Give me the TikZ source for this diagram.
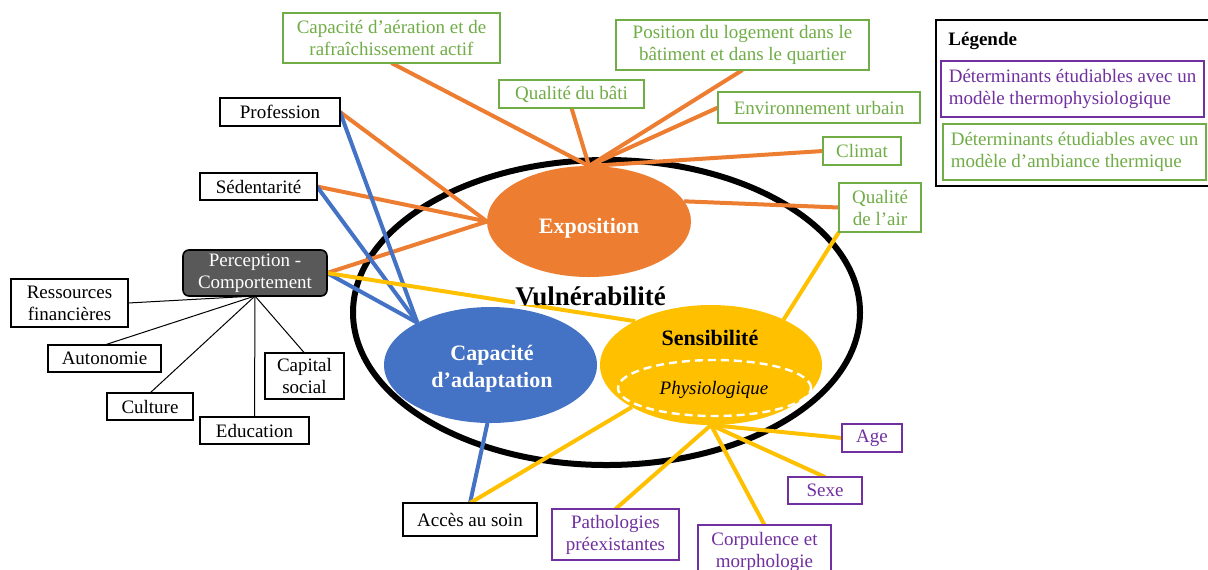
\documentclass[tikz,border=0pt]{standalone}
\usepackage{fontspec}
\setmainfont{Liberation Serif}
\usetikzlibrary{shapes.geometric}
\definecolor{grn}{HTML}{70AD47}
\definecolor{pur}{HTML}{7030A0}
\definecolor{org}{HTML}{ED7D31}
\definecolor{blu}{HTML}{4472C4}
\definecolor{yel}{HTML}{FFC000}
\definecolor{dgr}{HTML}{595959}
\pgfdeclarelayer{base}
\pgfdeclarelayer{lines}
\pgfsetlayers{base,lines,main}
\begin{document}
\begin{tikzpicture}[x=0.5pt,y=-0.5pt,
  sz/.style 2 args={minimum width=#1*0.5pt, minimum height=#2*0.5pt},
  box/.style={draw, line width=0.8pt, inner sep=0pt, outer sep=0pt, align=center, font=\fontsize{9.5}{11}\selectfont, fill=white},
  gbox/.style={box, draw=grn, text=grn},
  pbox/.style={box, draw=pur, text=pur},
  kbox/.style={box, draw=black, text=black},
  oline/.style={draw=org, line width=2pt},
  bline/.style={draw=blu, line width=2pt},
  yline/.style={draw=yel, line width=2pt},
  kline/.style={draw=black, line width=0.5pt},
  blob/.style={ellipse, inner sep=0pt, outer sep=0pt, draw=none},
  bigtxt/.style={font=\fontsize{11}{13.5}\selectfont\bfseries, inner sep=0pt, align=center},
  legtxt/.style={box, align=left, sz={263}{56}},
]
\useasboundingbox (0,0) rectangle (1208,569);

% main ellipse
\begin{pgfonlayer}{base}
\node[ellipse, draw=black, line width=3pt, inner sep=0pt, minimum width=253.5pt, minimum height=152.5pt] (vul) at (606.5,312.5) {};
\end{pgfonlayer}

% component ellipses
\node[blob, fill=org, sz={204}{111}] (expo) at (589,221.5) {};
\node[blob, fill=blu, sz={213}{116}] (cap) at (490.5,365) {};
\node[blob, fill=yel, sz={222}{120}] (sens) at (711,365) {};
\node[ellipse, draw=white, dashed, dash pattern=on 4pt off 2.5pt, line width=1.2pt, inner sep=0pt, sz={193}{56}] (phys) at (714.5,388) {};

\node[bigtxt, text=white, anchor=base] (expot) at (589,233) {Exposition};
\node[bigtxt, text=white, anchor=base] (capt1) at (492,360) {Capacité};
\node[bigtxt, text=white, anchor=base] (capt2) at (492,387) {d’adaptation};
\node[bigtxt, text=black, anchor=base] (senst) at (710,345) {Sensibilité};
\node[font=\fontsize{9.5}{11}\selectfont\itshape, inner sep=0pt, anchor=base] (physt) at (714,394) {Physiologique};
\node[font=\fontsize{13.5}{15}\selectfont\bfseries, fill=white, inner sep=0pt, anchor=base] (vult) at (590.5,305) {Vulnérabilité};

% green boxes
\node[gbox, sz={217}{50}] (aer) at (391.5,38) {Capacité d’aération et de\\rafraîchissement actif};
\node[gbox, sz={253}{50}] (pos) at (742.5,45) {Position du logement dans le\\bâtiment et dans le quartier};
\node[gbox, sz={145}{28}] (bati) at (571.5,94) {Qualité du bâti};
\node[gbox, sz={202}{31}] (env) at (819,107.5) {Environnement urbain};
\node[gbox, sz={78}{28}] (clim) at (862,151) {Climat};
\node[gbox, sz={82}{49}] (air) at (880,207.5) {Qualité\\de l’air};

% black boxes
\node[kbox, sz={120}{28}] (prof) at (280,112) {Profession};
\node[kbox, sz={117}{27}] (sed) at (258.5,186.5) {Sédentarité};
\node[box, draw=black, fill=dgr, text=white, rounded corners=3pt, sz={144}{46}] (perc) at (255,273) {Perception -\\Comportement};
\node[kbox, sz={117}{48}] (res) at (69.5,303) {Ressources\\financières};
\node[kbox, sz={113}{27}] (auto) at (104.5,358.5) {Autonomie};
\node[kbox, sz={86}{27}] (cult) at (150,406.5) {Culture};
\node[kbox, sz={109}{27}] (edu) at (254.5,430.5) {Education};
\node[kbox, sz={79}{46}] (capsoc) at (304.5,376) {Capital\\social};
\node[kbox, sz={134}{33}] (acc) at (470,519.5) {Accès au soin};

% purple boxes
\node[pbox, sz={127}{51}] (path) at (615.5,534.5) {Pathologies\\préexistantes};
\node[pbox, sz={133}{54}] (corp) at (764.5,552) {Corpulence et\\morphologie};
\node[pbox, sz={74}{27}] (sexe) at (825,490.5) {Sexe};
\node[pbox, sz={60}{28}] (age) at (872,438) {Age};

% legend
\node[draw=black, line width=0.8pt, fill=white, inner sep=0pt, sz={279}{166}] (leg) at (1075.5,103) {};
\node[font=\fontsize{9.5}{11}\selectfont\bfseries, inner sep=0pt, anchor=base west] (legt) at (948,45) {Légende};
\node[legtxt, draw=pur, text=pur] (leg1) at (1072.5,89) {Déterminants étudiables avec un\\modèle thermophysiologique};
\node[legtxt, draw=grn, text=grn] (leg2) at (1074.5,152) {Déterminants étudiables avec un\\modèle d’ambiance thermique};

% connectors
\begin{pgfonlayer}{lines}
\draw[oline] (aer.south) -- (expo.north);
\draw[oline] (bati.south) -- (expo.north);
\draw[oline] (pos.south) -- (expo.north);
\draw[oline] (env.west) -- (expo.north);
\draw[oline] (clim.west) -- (expo.north);
\draw[oline] (air.west) -- (expo.12);
\draw[oline] (prof.east) -- (expo.west);
\draw[oline] (sed.east) -- (expo.west);
\draw[oline] (perc.east) -- (expo.west);

\draw[bline] (prof.east) -- (cap.150);
\draw[bline] (sed.east) -- (cap.150);
\draw[bline] (perc.east) -- (cap.150);
\draw[bline] (cap.267) -- (acc.north);

\draw[yline] (perc.east) -- (sens.150);
\draw[yline] (air.south west) -- (sens.32);
\draw[yline] (acc.north) -- (sens.208);
\draw[yline] (path.north) -- (sens.south);
\draw[yline] (corp.north) -- (sens.south);
\draw[yline] (sexe.north) -- (sens.south);
\draw[yline] (age.west) -- (sens.south);

\draw[kline] (perc.south) -- (res.east);
\draw[kline] (perc.south) -- (auto.north);
\draw[kline] (perc.south) -- (cult.north);
\draw[kline] (perc.south) -- (edu.north);
\draw[kline] (perc.south) -- (capsoc.north);
\end{pgfonlayer}
\end{tikzpicture}
\end{document}
